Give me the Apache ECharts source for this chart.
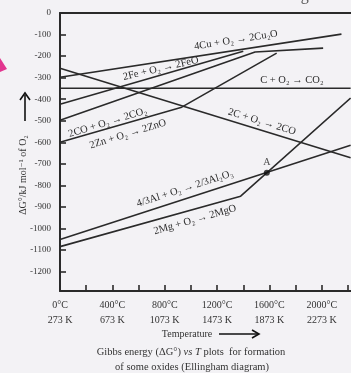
<!DOCTYPE html>
<html>
<head>
<meta charset="utf-8">
<script src="https://cdn.jsdelivr.net/npm/echarts@6/dist/echarts.min.js"></script>
<style>
html, body { margin: 0; padding: 0; background: #f3f2f5; }
#chart { width: 351px; height: 373px; }
</style>
</head>
<body>
<div id="chart"></div>
<script>
// temperature in °C, ΔG° in kJ per mol of O2
const cuT = [0, 2150];
const cuG = [-298, -98];
const feT = [0, 1400];
const feG = [-423, -177];
const cco2T = [0, 2220];
const cco2G = [-349, -349];
const coT = [0, 1490, 2010];
const coG = [-498, -181, -163];
const ccoT = [0, 2220];
const ccoG = [-256, -672];
const znT = [0, 930, 1655];
const znG = [-600, -437, -186];
const alT = [0, 2220];
const alG = [-1051, -614];
const mgT = [0, 1380, 2220];
const mgG = [-1084, -850, -395];
const pointA = [1580, -741];

const tempTicksC = [0, 400, 800, 1200, 1600, 2000];
const gTicks = [0, -100, -200, -300, -400, -500, -600, -700, -800, -900, -1000, -1100, -1200];

const SERIF = '"Liberation Serif", "DejaVu Serif", serif';
const INK = '#2a2a2a';

const pairs = (xs, ys) => xs.map((x, i) => [x, ys[i]]);

const lineSeries = (name, xs, ys) => ({
	name,
	type: 'line',
	data: pairs(xs, ys),
	symbol: 'none',
	silent: true,
	lineStyle: { color: INK, width: 1.6 },
	z: 3,
});

// equation labels: anchor in data space, rotation in degrees (positive = rising)
const eqLabels = [
	{ text: '4Cu + O₂ → 2Cu₂O', at: [1344, -126], rot: 9 },
	{ text: '2Fe + O₂ → 2FeO', at: [770, -258], rot: 13 },
	{ text: 'C + O₂ → CO₂', at: [1771, -314], rot: 0 },
	{ text: '2CO + O₂ → 2CO₂', at: [365, -508], rot: 17 },
	{ text: '2Zn + O₂ → 2ZnO', at: [519, -562], rot: 17 },
	{ text: '2C + O₂ → 2CO', at: [1542, -505], rot: -17 },
	{ text: '4/3Al + O₂ → 2/3Al₂O₃', at: [954, -815], rot: 18 },
	{ text: '2Mg + O₂ → 2MgO', at: [1031, -960], rot: 16 },
];

const chart = echarts.init(document.getElementById('chart'), null, { renderer: 'canvas' });

const option = {
	backgroundColor: '#f3f2f5',
	animation: false,
	grid: { left: 60, right: 0, top: 13, bottom: 82 },
	xAxis: [
		{
			type: 'value',
			min: 0,
			max: 2220,
			interval: 200,
			axisLine: { show: true, onZero: false, lineStyle: { color: INK, width: 2 } },
			axisTick: { show: true, inside: true, length: 6, lineStyle: { color: INK, width: 1.6 } },
			splitLine: { show: false },
			axisLabel: {
				color: '#333',
				fontFamily: SERIF,
				fontSize: 10,
				lineHeight: 15,
				margin: 7,
				showMaxLabel: false,
				formatter: (v) => (tempTicksC.includes(v) ? v + '°C\n' + (v + 273) + ' K' : ''),
			},
		},
		{
			// top frame line (figure is cropped on the right, so no right border)
			type: 'value',
			position: 'top',
			min: 0,
			max: 2220,
			axisLine: { show: true, onZero: false, lineStyle: { color: INK, width: 2 } },
			axisTick: { show: false },
			axisLabel: { show: false },
			splitLine: { show: false },
		},
	],
	yAxis: {
		type: 'value',
		min: -1290,
		max: 0,
		axisLine: { show: true, onZero: false, lineStyle: { color: INK, width: 2 } },
		axisTick: {
			show: true,
			inside: true,
			length: 6,
			customValues: gTicks,
			lineStyle: { color: INK, width: 1.6 },
		},
		splitLine: { show: false },
		axisLabel: {
			color: '#333',
			fontFamily: SERIF,
			fontSize: 9,
			margin: 9,
			customValues: gTicks,
			formatter: (v) => String(v),
		},
	},
	series: [
		lineSeries('Cu', cuT, cuG),
		lineSeries('Fe', feT, feG),
		lineSeries('C-CO2', cco2T, cco2G),
		lineSeries('CO', coT, coG),
		lineSeries('C-CO', ccoT, ccoG),
		lineSeries('Zn', znT, znG),
		lineSeries('Al', alT, alG),
		lineSeries('Mg', mgT, mgG),
		{
			name: 'A',
			type: 'scatter',
			data: [pointA],
			symbol: 'circle',
			symbolSize: 6,
			itemStyle: { color: '#111' },
			label: {
				show: true,
				formatter: 'A',
				position: 'top',
				distance: 2,
				color: '#222',
				fontFamily: SERIF,
				fontSize: 10,
			},
			z: 5,
		},
	],
};

chart.setOption(option);

const graphic = eqLabels.map((l) => {
	const p = chart.convertToPixel({ gridIndex: 0 }, l.at);
	return {
		type: 'text',
		x: p[0],
		y: p[1],
		rotation: (l.rot * Math.PI) / 180,
		silent: true,
		z: 10,
		style: {
			text: l.text,
			fill: '#2a2a2a',
			font: '10.5px ' + SERIF,
			align: 'center',
			verticalAlign: 'middle',
		},
	};
});

graphic.push(
	// cut-off line of text above the figure
	{
		type: 'text',
		x: 172,
		y: 4,
		silent: true,
		style: {
			text: 'the reduction is easier if the difference is larger.',
			fill: '#555',
			font: '16px ' + SERIF,
			align: 'center',
			verticalAlign: 'bottom',
		},
	},
	// magenta pointer at the left edge
	{
		type: 'polygon',
		silent: true,
		shape: { points: [[0, 58], [7, 69], [0, 72]] },
		style: { fill: '#e2358f' },
	},
	// y axis name with arrow
	{
		type: 'text',
		x: 23,
		y: 175,
		rotation: Math.PI / 2,
		silent: true,
		style: {
			text: 'ΔG°/kJ mol⁻¹ of O₂',
			fill: '#333',
			font: '10px ' + SERIF,
			align: 'center',
			verticalAlign: 'middle',
		},
	},
	{
		type: 'line',
		silent: true,
		shape: { x1: 25, y1: 121, x2: 25, y2: 95 },
		style: { stroke: '#111', lineWidth: 1.6 },
	},
	{
		type: 'polyline',
		silent: true,
		shape: { points: [[20, 100], [25, 93], [30, 100]] },
		style: { stroke: '#111', lineWidth: 1.6, fill: null },
	},
	// x axis name with arrow
	{
		type: 'text',
		x: 187,
		y: 334,
		silent: true,
		style: {
			text: 'Temperature',
			fill: '#333',
			font: '10px ' + SERIF,
			align: 'center',
			verticalAlign: 'middle',
		},
	},
	{
		type: 'line',
		silent: true,
		shape: { x1: 219, y1: 334, x2: 258, y2: 334 },
		style: { stroke: '#111', lineWidth: 1.4 },
	},
	{
		type: 'polyline',
		silent: true,
		shape: { points: [[252, 330], [259, 334], [252, 338]] },
		style: { stroke: '#111', lineWidth: 1.6, fill: null },
	},
	// caption
	{
		type: 'text',
		x: 191,
		y: 352,
		silent: true,
		style: {
			text: '{n|Gibbs energy (ΔG°) }{i|vs T}{n| plots  for formation}',
			align: 'center',
			verticalAlign: 'middle',
			rich: {
				n: { fill: '#333', fontFamily: SERIF, fontSize: 10.5 },
				i: { fill: '#333', fontFamily: SERIF, fontSize: 10.5, fontStyle: 'italic' },
			},
		},
	},
	{
		type: 'text',
		x: 192,
		y: 367,
		silent: true,
		style: {
			text: 'of some oxides (Ellingham diagram)',
			fill: '#333',
			font: '10.5px ' + SERIF,
			align: 'center',
			verticalAlign: 'middle',
		},
	}
);

chart.setOption({ graphic });
</script>
</body>
</html>
